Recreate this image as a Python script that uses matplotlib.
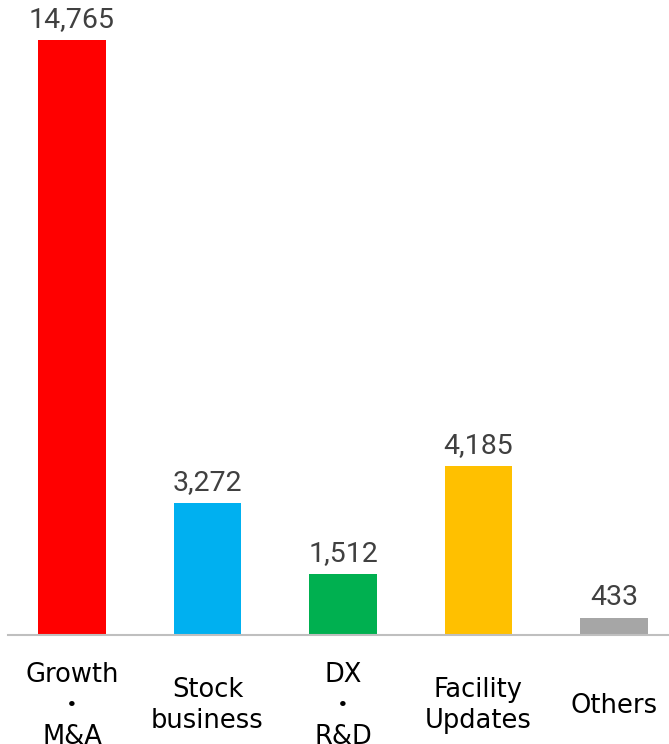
import matplotlib.pyplot as plt

categories = ["Growth\n・\nM&A", "Stock\nbusiness", "DX\n・\nR&D", "Facility\nUpdates", "Others"]
values = [14765, 3272, 1512, 4185, 433]
colors = ["#FF0000", "#00B0F0", "#00B050", "#FFC000", "#A6A6A6"]

fig = plt.figure(figsize=(6.69, 7.44), dpi=100)
ax = fig.add_axes([8 / 669, 109 / 744, 661 / 669, 635 / 744])

x = range(len(values))
bars = ax.bar(x, values, width=0.5, color=colors, zorder=2)

for xi, v in zip(x, values):
    ax.annotate(f"{v:,}", (xi, v), xytext=(0, 5), textcoords="offset points",
                ha="center", va="bottom", fontsize=20.5, color="#404040",
                family=["Roboto", "DejaVu Sans"])

ax.set_xlim(-0.472, 4.406)
ax.set_ylim(0, 15758)

ax.set_xticks(list(x))
ax.set_xticklabels(categories, fontsize=18.5, family=["DejaVu Sans", "Noto Sans CJK JP"],
                   linespacing=1.25, va="center")
ax.tick_params(axis="x", length=0, pad=51)
ax.set_yticks([])

for side in ["top", "left", "right"]:
    ax.spines[side].set_visible(False)
ax.spines["bottom"].set_color("#BFBFBF")
ax.spines["bottom"].set_linewidth(1.5)
ax.spines["bottom"].set_zorder(3)

fig.savefig("out.png", dpi=100)
